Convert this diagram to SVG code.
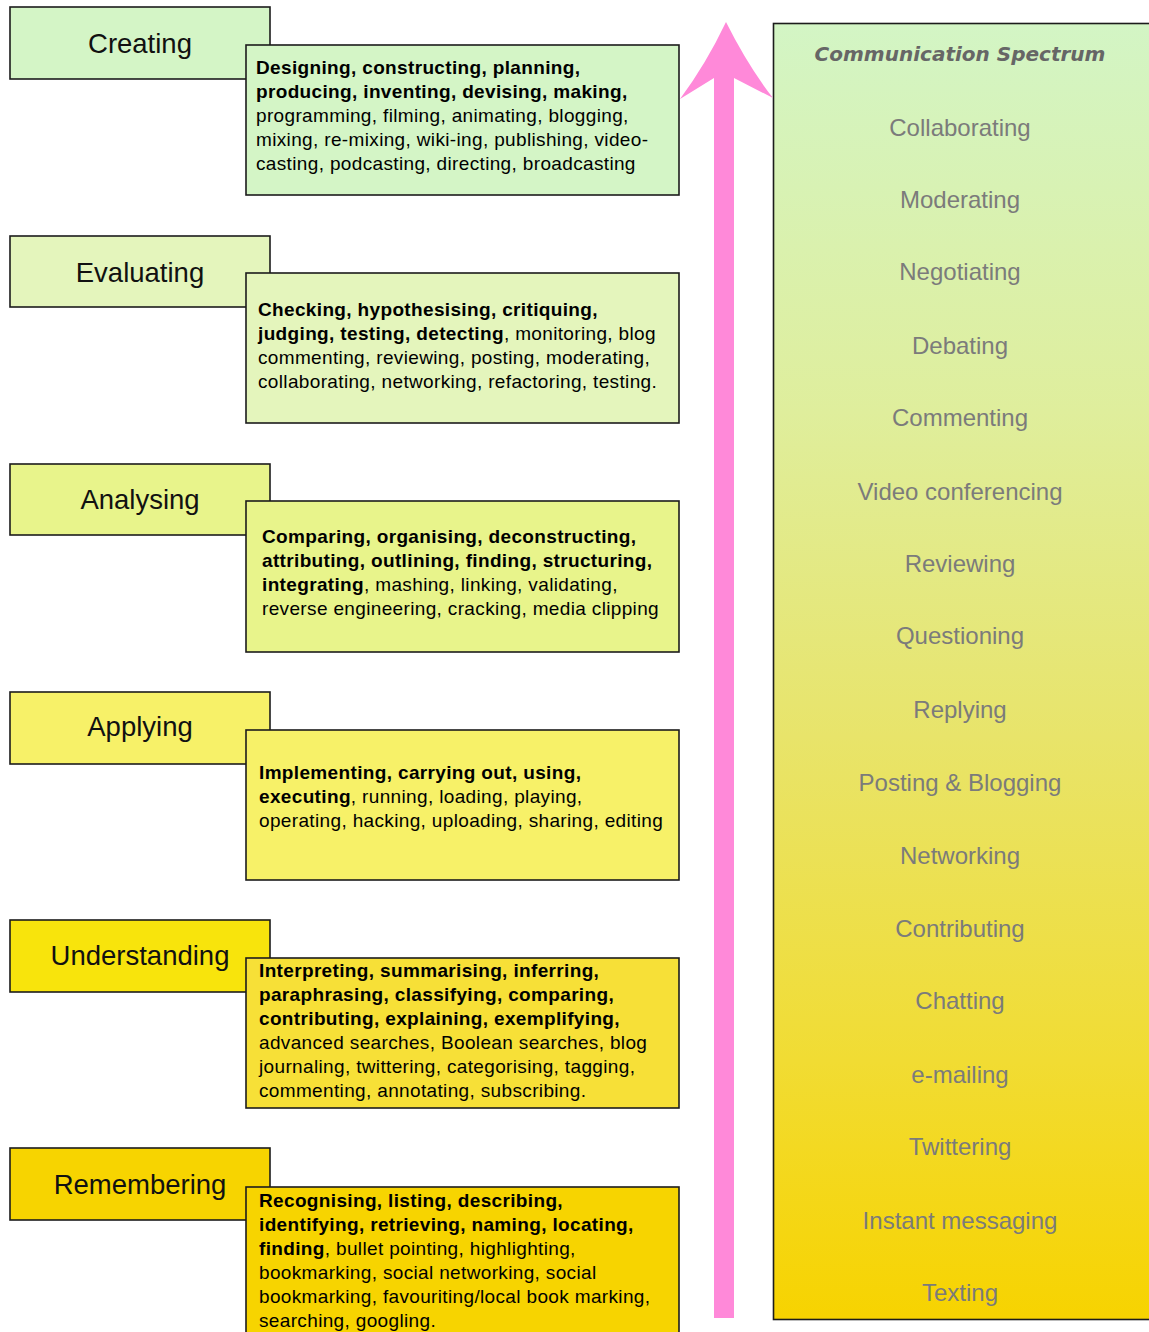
<svg xmlns="http://www.w3.org/2000/svg" width="1149" height="1332" viewBox="0 0 1149 1332">
<defs>
<linearGradient id="spec" x1="0" y1="0" x2="0" y2="1">
<stop offset="0" stop-color="#d3f5c5"/>
<stop offset="0.3" stop-color="#dfee9c"/>
<stop offset="0.55" stop-color="#e8e46a"/>
<stop offset="0.8" stop-color="#f1dc33"/>
<stop offset="1" stop-color="#f7d300"/>
</linearGradient>
<style>
.box{stroke:#1c1c1c;stroke-width:1.6}
.lbl{font-family:"Liberation Sans",Arial,sans-serif;font-size:27.5px;fill:#111;text-anchor:middle}
.det{font-family:"Liberation Sans",Arial,sans-serif;font-size:19px;letter-spacing:0.35px;fill:#000}
.b{font-weight:bold}
.item{font-family:"Liberation Sans",Arial,sans-serif;font-size:24px;fill:#7b7b7b;text-anchor:middle}
.title{font-family:"DejaVu Sans",Verdana,sans-serif;font-size:20px;font-weight:bold;font-style:italic;fill:#666;text-anchor:middle}
</style>
</defs>
<rect width="1149" height="1332" fill="#fff"/>

<g id="spectrum">
<rect x="773.5" y="23.5" width="400" height="1296" fill="url(#spec)" class="box"/>
<text x="960" y="61" class="title">Communication Spectrum</text>
<text x="960" y="136" class="item">Collaborating</text>
<text x="960" y="208" class="item">Moderating</text>
<text x="960" y="280" class="item">Negotiating</text>
<text x="960" y="354" class="item">Debating</text>
<text x="960" y="426" class="item">Commenting</text>
<text x="960" y="500" class="item">Video conferencing</text>
<text x="960" y="572" class="item">Reviewing</text>
<text x="960" y="644" class="item">Questioning</text>
<text x="960" y="718" class="item">Replying</text>
<text x="960" y="791" class="item">Posting &amp; Blogging</text>
<text x="960" y="864" class="item">Networking</text>
<text x="960" y="937" class="item">Contributing</text>
<text x="960" y="1009" class="item">Chatting</text>
<text x="960" y="1083" class="item">e-mailing</text>
<text x="960" y="1155" class="item">Twittering</text>
<text x="960" y="1229" class="item">Instant messaging</text>
<text x="960" y="1301" class="item">Texting</text>
</g>

<g id="connectors">
<path d="M726,22 Q748,66 773,98 L734,78 L734,1318 L714,1318 L714,78 L680,99 Q706,64 726,22 Z" fill="#ff89d9"/>
</g>

<g id="creating">
<rect x="10" y="7" width="260" height="72" fill="#d4f5c6" class="box"/>
<text x="140" y="53" class="lbl">Creating</text>
<rect x="246" y="45" width="433" height="150" fill="#d4f5c6" class="box"/>
<text class="det">
<tspan x="256" y="74" class="b">Designing, constructing, planning,</tspan>
<tspan x="256" y="98" class="b">producing, inventing, devising, making,</tspan>
<tspan x="256" y="122">programming, filming, animating, blogging,</tspan>
<tspan x="256" y="146">mixing, re-mixing, wiki-ing, publishing, video-</tspan>
<tspan x="256" y="170">casting, podcasting, directing, broadcasting</tspan>
</text>
</g>

<g id="evaluating">
<rect x="10" y="236" width="260" height="71" fill="#e4f5bc" class="box"/>
<text x="140" y="282" class="lbl">Evaluating</text>
<rect x="246" y="273" width="433" height="150" fill="#e4f5bc" class="box"/>
<text class="det">
<tspan x="258" y="316" class="b">Checking, hypothesising, critiquing,</tspan>
<tspan x="258" y="340"><tspan class="b">judging, testing, detecting</tspan>, monitoring, blog</tspan>
<tspan x="258" y="364">commenting, reviewing, posting, moderating,</tspan>
<tspan x="258" y="388">collaborating, networking, refactoring, testing.</tspan>
</text>
</g>

<g id="analysing">
<rect x="10" y="464" width="260" height="71" fill="#e8f48b" class="box"/>
<text x="140" y="509" class="lbl">Analysing</text>
<rect x="246" y="501" width="433" height="151" fill="#e8f48b" class="box"/>
<text class="det">
<tspan x="262" y="543" class="b">Comparing, organising, deconstructing,</tspan>
<tspan x="262" y="567" class="b">attributing, outlining, finding, structuring,</tspan>
<tspan x="262" y="591"><tspan class="b">integrating</tspan>, mashing, linking, validating,</tspan>
<tspan x="262" y="615">reverse engineering, cracking, media clipping</tspan>
</text>
</g>

<g id="applying">
<rect x="10" y="692" width="260" height="72" fill="#f7f168" class="box"/>
<text x="140" y="736" class="lbl">Applying</text>
<rect x="246" y="730" width="433" height="150" fill="#f7f168" class="box"/>
<text class="det">
<tspan x="259" y="779" class="b">Implementing, carrying out, using,</tspan>
<tspan x="259" y="803"><tspan class="b">executing</tspan>, running, loading, playing,</tspan>
<tspan x="259" y="827">operating, hacking, uploading, sharing, editing</tspan>
</text>
</g>

<g id="understanding">
<rect x="10" y="920" width="260" height="72" fill="#f8e40c" class="box"/>
<text x="140" y="965" class="lbl">Understanding</text>
<rect x="246" y="958" width="433" height="150" fill="#f7e037" class="box"/>
<text class="det">
<tspan x="259" y="977" class="b">Interpreting, summarising, inferring,</tspan>
<tspan x="259" y="1001" class="b">paraphrasing, classifying, comparing,</tspan>
<tspan x="259" y="1025" class="b">contributing, explaining, exemplifying,</tspan>
<tspan x="259" y="1049">advanced searches, Boolean searches, blog</tspan>
<tspan x="259" y="1073">journaling, twittering, categorising, tagging,</tspan>
<tspan x="259" y="1097">commenting, annotating, subscribing.</tspan>
</text>
</g>

<g id="remembering">
<rect x="10" y="1148" width="260" height="72" fill="#f7d400" class="box"/>
<text x="140" y="1194" class="lbl">Remembering</text>
<rect x="246" y="1187" width="433" height="160" fill="#f7d400" class="box"/>
<text class="det">
<tspan x="259" y="1207" class="b">Recognising, listing, describing,</tspan>
<tspan x="259" y="1231" class="b">identifying, retrieving, naming, locating,</tspan>
<tspan x="259" y="1255"><tspan class="b">finding</tspan>, bullet pointing, highlighting,</tspan>
<tspan x="259" y="1279">bookmarking, social networking, social</tspan>
<tspan x="259" y="1303">bookmarking, favouriting/local book marking,</tspan>
<tspan x="259" y="1327">searching, googling.</tspan>
</text>
</g>
</svg>
